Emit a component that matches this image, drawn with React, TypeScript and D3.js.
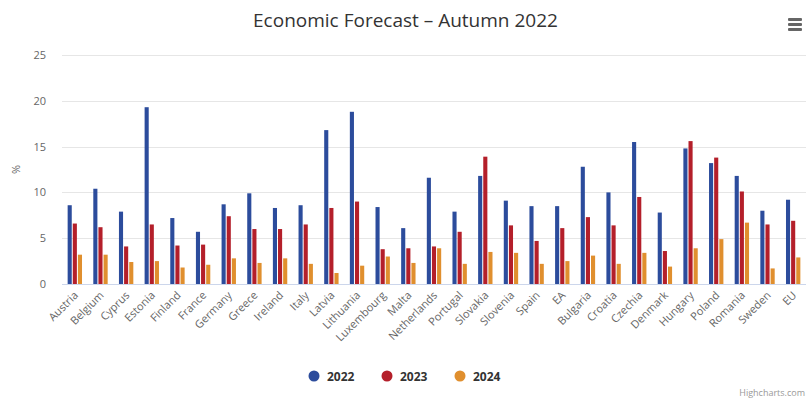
import React from "react";
import * as d3 from "d3";

const categories = [
  "Austria", "Belgium", "Cyprus", "Estonia", "Finland", "France", "Germany", "Greece",
  "Ireland", "Italy", "Latvia", "Lithuania", "Luxembourg", "Malta", "Netherlands",
  "Portugal", "Slovakia", "Slovenia", "Spain", "EA", "Bulgaria", "Croatia", "Czechia",
  "Denmark", "Hungary", "Poland", "Romania", "Sweden", "EU",
];

const values2022 = [8.6, 10.4, 7.9, 19.3, 7.2, 5.7, 8.7, 9.9, 8.3, 8.6, 16.8, 18.8, 8.4, 6.1, 11.6, 7.9, 11.8, 9.1, 8.5, 8.5, 12.8, 10.0, 15.5, 7.8, 14.8, 13.2, 11.8, 8.0, 9.2];
const values2023 = [6.6, 6.2, 4.1, 6.5, 4.2, 4.3, 7.4, 6.0, 6.0, 6.5, 8.3, 9.0, 3.8, 3.9, 4.1, 5.7, 13.9, 6.4, 4.7, 6.1, 7.3, 6.4, 9.5, 3.6, 15.6, 13.8, 10.1, 6.5, 6.9];
const values2024 = [3.2, 3.2, 2.4, 2.5, 1.8, 2.1, 2.8, 2.3, 2.8, 2.2, 1.2, 2.0, 3.0, 2.3, 3.9, 2.2, 3.5, 3.4, 2.2, 2.5, 3.1, 2.2, 3.4, 1.9, 3.9, 4.9, 6.7, 1.7, 2.9];

const seriesNames = ["2022", "2023", "2024"];
const seriesColors = ["#2C4C9C", "#B41F2A", "#E08F2E"];
const yTicks = [0, 5, 10, 15, 20, 25];

const W = 811;
const H = 401;
const FONT = '"Open Sans", "Noto Sans", sans-serif';

export default function App() {
  const plotLeft = 62;
  const plotRight = 806;
  const plotTop = 55;
  const plotBottom = 284;

  const x = d3.scaleBand<string>().domain(categories).range([plotLeft, plotRight]).paddingInner(0).paddingOuter(0);
  const y = d3.scaleLinear().domain([0, 25]).range([plotBottom, plotTop]);
  const groupPad = 0.2;
  const groupW = x.bandwidth() * (1 - 2 * groupPad);
  const xs = d3.scaleBand<string>().domain(seriesNames).range([0, groupW]).paddingInner(0.2).paddingOuter(0.1);
  const allSeries = [values2022, values2023, values2024];

  return (
    <div style={{ position: "absolute", left: 0, top: 0 }}>
      <svg width={W} height={H} style={{ display: "block", fontFamily: FONT }}>
        <rect width={W} height={H} fill="#ffffff" />
        <text x={W / 2} y={27} textAnchor="middle" fontSize={19} fill="#333333">
          Economic Forecast – Autumn 2022
        </text>
        {/* menu icon */}
        <g fill="#666666">
          {[0, 1, 2].map((i) => (
            <rect key={i} x={788} y={18 + i * 5} width={14} height={3} rx={1} />
          ))}
        </g>
        {/* grid */}
        {yTicks.map((t) => (
          <g key={t}>
            {t !== 0 && (
              <line x1={plotLeft} x2={plotRight} y1={Math.round(y(t)) + 0.5} y2={Math.round(y(t)) + 0.5} stroke="#e6e6e6" strokeWidth={1} />
            )}
            <text x={46} y={y(t) + 4} textAnchor="end" fontSize={11} fill="#666666">
              {t}
            </text>
          </g>
        ))}
        <text transform={`translate(20,${(plotTop + plotBottom) / 2}) rotate(-90)`} textAnchor="middle" fontSize={11} fill="#666666">
          %
        </text>
        {/* bars */}
        {categories.map((c, ci) => (
          <g key={c}>
            {allSeries.map((vals, si) => {
              const bx = (x(c) as number) + x.bandwidth() * groupPad + (xs(seriesNames[si]) as number);
              return (
                <rect
                  key={si}
                  x={bx}
                  y={y(vals[ci])}
                  width={xs.bandwidth()}
                  height={plotBottom - y(vals[ci])}
                  fill={seriesColors[si]}
                />
              );
            })}
          </g>
        ))}
        {/* x axis */}
        <line x1={plotLeft} x2={plotRight} y1={plotBottom + 0.5} y2={plotBottom + 0.5} stroke="#ccd6eb" strokeWidth={1} />
        {categories.map((c) => {
          const cx = (x(c) as number) + x.bandwidth() / 2;
          return (
            <text key={c} transform={`translate(${cx + 4},${plotBottom + 12}) rotate(-45)`} textAnchor="end" fontSize={11} fill="#666666">
              {c}
            </text>
          );
        })}
        {/* legend */}
        {seriesNames.map((n, i) => {
          const lx = 314 + i * 73;
          return (
            <g key={n}>
              <circle cx={lx} cy={376} r={5.5} fill={seriesColors[i]} />
              <text x={lx + 13} y={380.5} fontSize={12} fontWeight="bold" fill="#333333">
                {n}
              </text>
            </g>
          );
        })}
        <text x={805} y={396} textAnchor="end" fontSize={9} fill="#999999">
          Highcharts.com
        </text>
      </svg>
    </div>
  );
}
